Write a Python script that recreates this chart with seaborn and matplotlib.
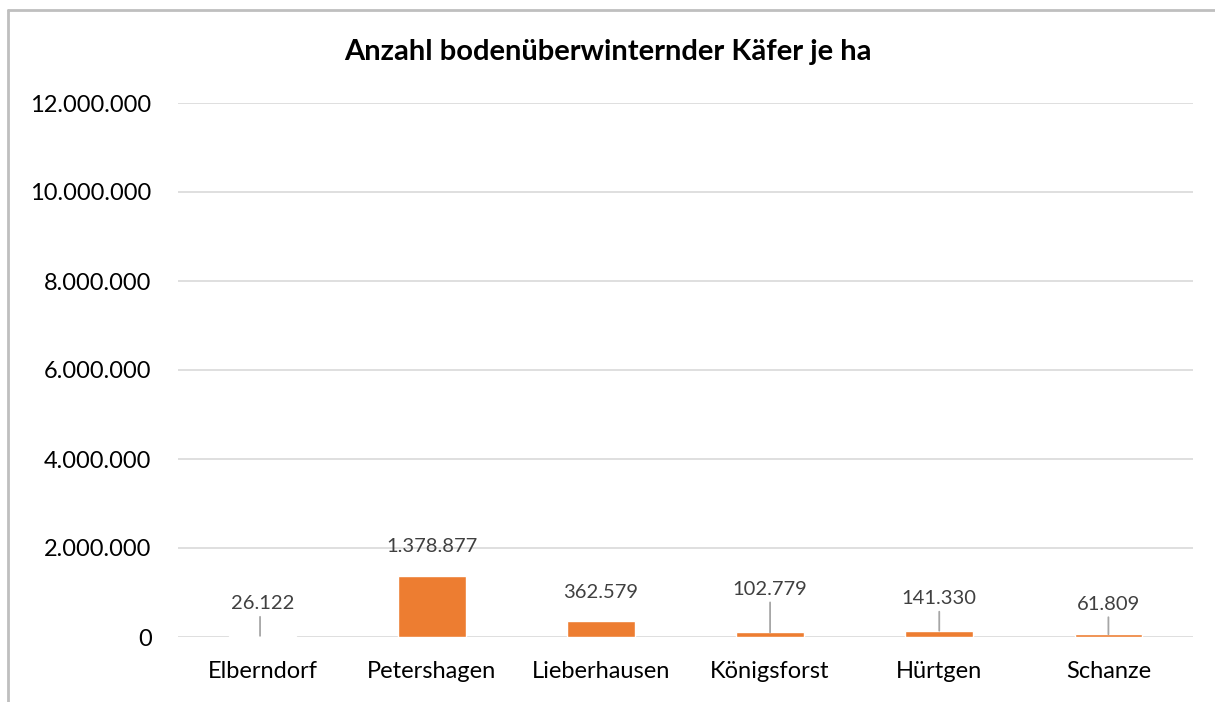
import matplotlib
matplotlib.use("Agg")
import matplotlib.pyplot as plt
from matplotlib.lines import Line2D
import seaborn as sns
import pandas as pd

# Daten
standorte = ["Elberndorf", "Petershagen", "Lieberhausen", "Königsforst", "Hürtgen", "Schanze"]
kaefer_je_ha = [26122, 1378877, 362579, 102779, 141330, 61809]
farben = ["#F8CBAD", "#ED7D31", "#ED7D31", "#ED7D31", "#ED7D31", "#ED7D31"]
# Versatz der Beschriftung über dem Balken (Pixel) und ob eine Führungslinie gezeichnet wird
label_offset = [32, 29, 28, 43, 32, 30]
fuehrungslinie = [True, False, False, True, True, True]

df = pd.DataFrame({"Standort": standorte, "Anzahl": kaefer_je_ha})

sns.set_theme(style="white")
plt.rcParams["font.family"] = ["Lato", "DejaVu Sans"]

fig = plt.figure(figsize=(12.15, 7.02), dpi=100)
ax = fig.add_axes([178 / 1215, 1 - 637 / 702, (1193 - 178) / 1215, (637 - 103) / 702])

sns.barplot(data=df, x="Standort", y="Anzahl", hue="Standort",
            palette=dict(zip(standorte, farben)), width=0.4, saturation=1,
            legend=False, ax=ax, zorder=3)

ax.set_ylim(0, 12000000)
ax.set_yticks(range(0, 12000001, 2000000))
ax.set_yticklabels([f"{int(t):,}".replace(",", ".") for t in ax.get_yticks()],
                   fontsize=17, color="black")
ax.tick_params(axis="x", labelsize=17, colors="black", pad=17, length=0)
ax.tick_params(axis="y", pad=19, length=0)
ax.set_xlabel("")
ax.set_ylabel("")
ax.yaxis.grid(True, color="#D9D9D9", linewidth=1.2, zorder=0)
ax.set_axisbelow(True)
for s in ax.spines.values():
    s.set_visible(False)
ax.set_xlim(-0.5, len(standorte) - 0.5)

# Datenbeschriftungen mit Führungslinien
for i, (v, off, linie) in enumerate(zip(kaefer_je_ha, label_offset, fuehrungslinie)):
    label = f"{v:,}".replace(",", ".")
    ax.annotate(label, xy=(i, v), xytext=(0, off * 0.72), textcoords="offset points",
                ha="center", va="center", fontsize=14.5, color="#404040")
    if linie:
        ax.annotate("", xy=(i - (0.015 if i == 0 else 0), v), xycoords="data",
                    xytext=(0, (off - 13) * 0.72), textcoords="offset points",
                    arrowprops=dict(arrowstyle="-", color="#A6A6A6", lw=1.3,
                                    shrinkA=0, shrinkB=0))

fig.text(0.5, 1 - 52 / 702, "Anzahl bodenüberwinternder Käfer je ha",
         ha="center", va="center", fontsize=21, fontweight="bold", color="black")

# Diagrammrahmen
fig.add_artist(Line2D([8 / 1215, 1.0], [1 - 10 / 702, 1 - 10 / 702],
                      color="#BFBFBF", linewidth=2, transform=fig.transFigure))
fig.add_artist(Line2D([8 / 1215, 8 / 1215], [0, 1 - 10 / 702],
                      color="#BFBFBF", linewidth=2, transform=fig.transFigure))

fig.savefig("out.png", dpi=100)
